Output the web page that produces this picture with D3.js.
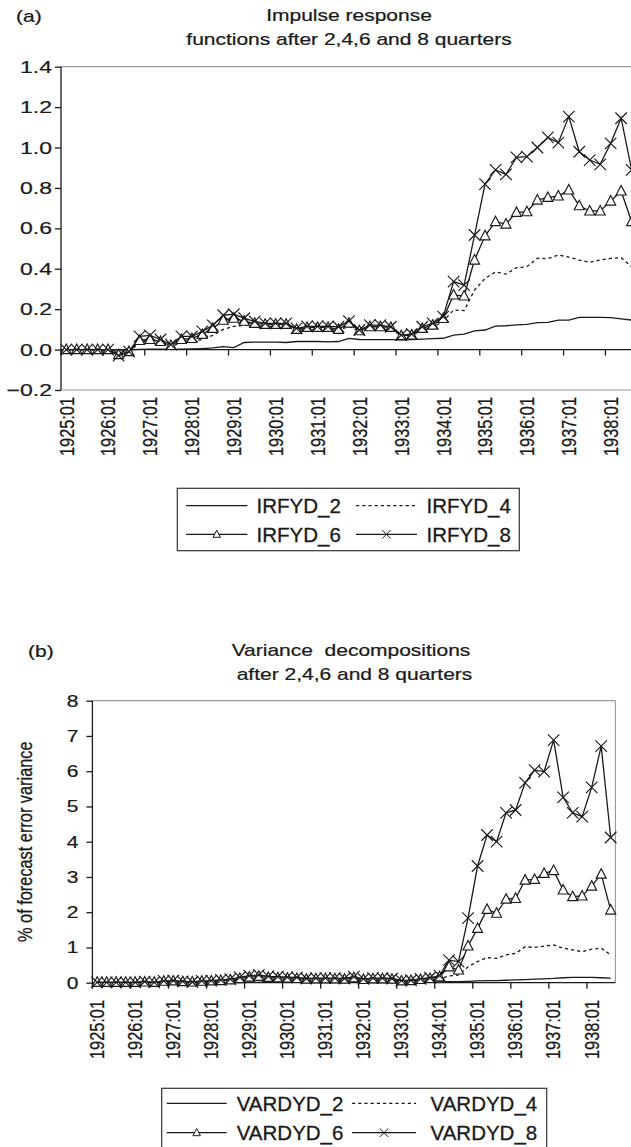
<!DOCTYPE html>
<html><head><meta charset="utf-8">
<script src="https://cdn.jsdelivr.net/npm/d3@7"></script>
<style>
html,body{margin:0;padding:0;background:#fff;}
svg{display:block;}
text{font-family:"Liberation Sans",Arial,Helvetica,sans-serif;fill:#1a1a1a;stroke:#1a1a1a;stroke-width:0.3px;white-space:pre;}
</style></head>
<body>
<svg id="chart" width="631" height="1147"></svg>
<script>
// ---------- data ----------
const years = [1925,1926,1927,1928,1929,1930,1931,1932,1933,1934,1935,1936,1937,1938];
const quarterSuffix = ["01","02","03","04"];
const categories = [];
years.forEach(y => quarterSuffix.forEach(q => categories.push(y + ":" + q)));
categories.splice(55); // 1925:01 .. 1938:03

const tickLabels = ["1925:01","1926:01","1927:01","1928:01","1929:01","1930:01","1931:01",
  "1932:01","1933:01","1934:01","1935:01","1936:01","1937:01","1938:01"];

const irfTicks = [-0.2,0,0.2,0.4,0.6,0.8,1.0,1.2,1.4];
const irfTickText = ["\u22120.2","0.0","0.2","0.4","0.6","0.8","1.0","1.2","1.4"];
const varTicks = [0,1,2,3,4,5,6,7,8];

const IRFYD_2 = [0,0,0,0,0,-0.002,-0.001,0.001,0.002,0.002,0.001,0.002,0.003,0.005,0.008,0.015,0.01,
  0.035,0.037,0.037,0.037,0.035,0.04,0.04,0.04,0.038,0.04,0.055,0.05,0.049,0.049,0.049,0.048,0.05,0.052,
  0.054,0.056,0.072,0.077,0.093,0.097,0.116,0.118,0.122,0.125,0.133,0.135,0.146,0.146,0.159,0.159,0.159,
  0.158,0.152,0.146];
const IRFYD_4 = [0,0,0,0,0,-0.015,-0.005,0.03,0.035,0.03,0.015,0.035,0.04,0.05,0.07,0.1,0.115,0.12,0.12,
  0.115,0.115,0.115,0.095,0.1,0.1,0.1,0.095,0.115,0.09,0.1,0.1,0.1,0.07,0.07,0.095,0.11,0.14,0.196,0.193,
  0.295,0.352,0.385,0.374,0.405,0.41,0.452,0.45,0.468,0.458,0.443,0.432,0.443,0.451,0.455,0.41];
const IRFYD_6 = [0,0,0,0,0,-0.025,-0.01,0.045,0.05,0.04,0.02,0.05,0.055,0.075,0.105,0.145,0.155,0.14,0.13,
  0.125,0.125,0.125,0.1,0.11,0.11,0.11,0.1,0.131,0.093,0.113,0.113,0.11,0.069,0.072,0.105,0.121,0.154,0.27,
  0.265,0.443,0.563,0.633,0.621,0.679,0.682,0.74,0.753,0.76,0.79,0.712,0.686,0.686,0.735,0.785,0.633];
const IRFYD_8 = [0,0,0,0,0,-0.03,-0.01,0.065,0.07,0.05,0.025,0.065,0.065,0.09,0.12,0.17,0.175,0.155,0.14,
  0.13,0.13,0.13,0.105,0.115,0.115,0.115,0.113,0.141,0.097,0.121,0.121,0.113,0.072,0.077,0.113,0.13,0.163,
  0.336,0.319,0.567,0.819,0.889,0.867,0.951,0.955,1.0,1.05,1.024,1.153,0.979,0.938,0.917,1.021,1.145,0.889];

const VARDYD_2 = [0,0,0,0,0,0,0,0,0,0,0,0,0,0,0,0,0.01,0.01,0.02,0.02,0.02,0.02,0.02,0.02,0.02,0.02,0.02,
  0.02,0.02,0.02,0.02,0.02,0.02,0.02,0.02,0.02,0.02,0.03,0.03,0.04,0.05,0.06,0.06,0.07,0.08,0.09,0.1,0.11,
  0.12,0.14,0.15,0.15,0.15,0.14,0.13];
const VARDYD_4 = [0,0,0,0,0,0.01,0,0.02,0.03,0.02,0.01,0.02,0.03,0.04,0.05,0.07,0.09,0.1,0.09,0.08,0.08,
  0.08,0.07,0.07,0.07,0.07,0.07,0.09,0.06,0.07,0.07,0.07,0.04,0.04,0.06,0.08,0.11,0.19,0.22,0.45,0.6,0.71,
  0.69,0.79,0.83,1.02,1.0,1.04,1.07,0.98,0.93,0.88,0.95,0.98,0.79];
const VARDYD_6 = [0.01,0.01,0.01,0.01,0.01,0.02,0.01,0.04,0.05,0.03,0.02,0.04,0.05,0.06,0.08,0.12,0.16,
  0.18,0.15,0.14,0.13,0.12,0.1,0.11,0.11,0.11,0.1,0.14,0.09,0.11,0.11,0.1,0.05,0.06,0.09,0.12,0.17,0.45,
  0.36,1.04,1.54,2.08,1.97,2.37,2.39,2.91,2.93,3.10,3.18,2.63,2.44,2.46,2.74,3.08,2.06];
const VARDYD_8 = [0.01,0.01,0.01,0.01,0.01,0.03,0.01,0.05,0.06,0.04,0.02,0.05,0.06,0.08,0.1,0.15,0.2,
  0.22,0.18,0.17,0.16,0.15,0.12,0.13,0.13,0.13,0.12,0.17,0.11,0.13,0.13,0.12,0.06,0.07,0.11,0.14,0.2,0.64,
  0.6,1.83,3.31,4.19,4.0,4.82,4.9,5.67,6.03,5.99,6.88,5.26,4.82,4.71,5.54,6.71,4.12];

const irfNames = ["IRFYD_2","IRFYD_4","IRFYD_6","IRFYD_8"];
const varNames = ["VARDYD_2","VARDYD_4","VARDYD_6","VARDYD_8"];
const styles = ["solid","dash","tri","cross"];

// ---------- drawing ----------
const svg = d3.select("#chart");
svg.append("rect").attr("width",631).attr("height",1147).attr("fill","#fff");
const SY = 0.778, FS = 21, INK = "#1a1a1a";

function label(g, x, y, s, anchor, rot, size, sy) {
  const t = g.append("text")
    .attr("transform", `translate(${x},${y}) scale(1,${sy===undefined?SY:sy})` + (rot ? ` rotate(${rot})` : ""))
    .attr("font-size", size || FS)
    .attr("text-anchor", anchor || "start")
    .text(s);
  return t;
}

function markerPath(kind, s) {
  if (kind === "tri") return `M0,${-0.55*s}L${0.5*s},${0.4*s}L${-0.5*s},${0.4*s}Z`;
  if (kind === "cross") return `M${-0.5*s},${-0.5*s}L${0.5*s},${0.5*s}M${-0.5*s},${0.5*s}L${0.5*s},${-0.5*s}`;
  return "";
}

function panel(cfg) {
  const g = svg.append("g");
  const x = d3.scaleBand().domain(categories).range([cfg.x0, cfg.x0 + 55*cfg.w]).padding(0);
  const y = d3.scaleLinear().domain(cfg.domain).range([cfg.yBottom, cfg.yTop]);
  const cx = c => x(c) + x.bandwidth()/2;

  // plot frame (grey)
  g.append("line").attr("x1",cfg.x0).attr("x2",cfg.x0+55*cfg.w).attr("y1",y(cfg.domain[1])).attr("y2",y(cfg.domain[1]))
    .attr("stroke","#9a9a9a").attr("stroke-width",1.2);
  if (cfg.bottomFrame) g.append("line").attr("x1",cfg.x0).attr("x2",cfg.x0+55*cfg.w).attr("y1",y(cfg.domain[0])).attr("y2",y(cfg.domain[0]))
    .attr("stroke","#9a9a9a").attr("stroke-width",1.2);
  g.append("line").attr("x1",cfg.x0+55*cfg.w).attr("x2",cfg.x0+55*cfg.w).attr("y1",y(cfg.domain[1])).attr("y2",y(cfg.domain[0]))
    .attr("stroke","#9a9a9a").attr("stroke-width",1.2);

  // y axis
  const ya = g.append("g").attr("transform",`translate(${cfg.x0},0)`)
    .call(d3.axisLeft(y).tickValues(cfg.ticks).tickSize(6).tickFormat(() => ""));
  ya.selectAll("path,line").attr("stroke",INK).attr("stroke-width",1.3);
  ya.select("path.domain").attr("d",`M0,${y(cfg.domain[0])}V${y(cfg.domain[1])}`);
  cfg.ticks.forEach((v,i) => label(g, cfg.labelX, y(v) + 6, cfg.tickText[i], "end", 0, cfg.ytSize, cfg.ytSY));

  // x axis at zero with ticks at category boundaries every 4 quarters
  const y0 = y(0);
  g.append("line").attr("x1",cfg.x0).attr("x2",cfg.x0+55*cfg.w).attr("y1",y0).attr("y2",y0)
    .attr("stroke",INK).attr("stroke-width",1.3);
  const tickCats = categories.filter((c,i) => i % 4 === 0);
  g.selectAll(".xt").data(tickCats).enter().append("line")
    .attr("x1",c => x(c)).attr("x2",c => x(c)).attr("y1",y0).attr("y2",y0+6)
    .attr("stroke",INK).attr("stroke-width",1.3);
  tickLabels.forEach(lbl => {
    label(g, cx(lbl) + cfg.labelShift, cfg.xLabelTop, lbl, "end", -90).attr("dy","0.35em");
  });

  // series
  const line = d3.line().x((d,i) => cx(categories[i])).y(d => y(d));
  cfg.series.forEach((s,k) => {
    g.append("path").datum(s).attr("d", line).attr("fill","none").attr("stroke",INK)
      .attr("stroke-width",1.3).attr("stroke-dasharray", styles[k]==="dash" ? "3.2,3" : null);
    if (styles[k]==="tri" || styles[k]==="cross") {
      g.selectAll(null).data(s).enter().append("path")
        .attr("transform",(d,i) => `translate(${cx(categories[i])},${y(d)})`)
        .attr("d", markerPath(styles[k], styles[k]==="tri" ? 10 : 11.5))
        .attr("fill", styles[k]==="tri" ? "#fff" : "none")
        .attr("stroke",INK).attr("stroke-width",1.15);
    }
  });
  return g;
}

function legend(cfg) {
  const g = svg.append("g");
  g.append("rect").attr("x",cfg.x).attr("y",cfg.y).attr("width",cfg.w).attr("height",cfg.h)
    .attr("fill","#fff").attr("stroke","#333").attr("stroke-width",1.2);
  cfg.names.forEach((n,k) => {
    const row = Math.floor(k/2), col = k % 2;
    const yy = cfg.rows[row];
    const [l1,l2,tx] = cfg.cols[col];
    g.append("line").attr("x1",l1).attr("x2",l2).attr("y1",yy).attr("y2",yy).attr("stroke",INK)
      .attr("stroke-width",1.3).attr("stroke-dasharray", styles[k]==="dash" ? "3.2,3" : null);
    if (styles[k]==="tri" || styles[k]==="cross") {
      g.append("path").attr("transform",`translate(${(l1+l2)/2},${yy})`)
        .attr("d", markerPath(styles[k], styles[k]==="tri" ? 7.5 : 8.5))
        .attr("fill", styles[k]==="tri" ? "#fff" : "none").attr("stroke",INK).attr("stroke-width",1);
    }
    label(g, tx, yy + 7.2, n, "start", 0, 20.5, 1);
  });
}

// ---------- panel (a) ----------
label(svg, 16, 21.5, "(a)");
label(svg, 349, 20.8, "Impulse response", "middle");
label(svg, 349, 45, "functions after 2,4,6 and 8 quarters", "middle");
panel({x0:61, w:10.47, domain:[-0.2,1.4], yTop:66.7, yBottom:390, ticks:irfTicks, tickText:irfTickText,
  ytSize:23, ytSY:0.73,
  labelX:52, xLabelTop:397, labelShift:0, bottomFrame:true, series:[IRFYD_2,IRFYD_4,IRFYD_6,IRFYD_8]});
legend({x:177.3, y:488.3, w:342, h:62.4, rows:[505.7,534.3], cols:[[186,247.5,256.5],[356,417,426.5]], names:irfNames});

// ---------- panel (b) ----------
label(svg, 28, 656.5, "(b)");
label(svg, 351, 656, "Variance\u00a0 decompositions", "middle");
label(svg, 354.5, 679.5, "after 2,4,6 and 8 quarters", "middle");
panel({x0:92.4, w:9.51, domain:[0,8], yTop:700.7, yBottom:982.7, ticks:varTicks, tickText:varTicks.map(String),
  ytSize:21, ytSY:SY,
  labelX:78.5, xLabelTop:1000, labelShift:-0.5, bottomFrame:false, series:[VARDYD_2,VARDYD_4,VARDYD_6,VARDYD_8]});
label(svg, 25, 841.7, "% of forecast error variance", "middle", -90).attr("dy","0.35em");
legend({x:161.7, y:1088.3, w:385, h:70, rows:[1103.3,1132.7], cols:[[166.7,226.7,236.7],[352,416,430.5]], names:varNames});
</script>
</body></html>
